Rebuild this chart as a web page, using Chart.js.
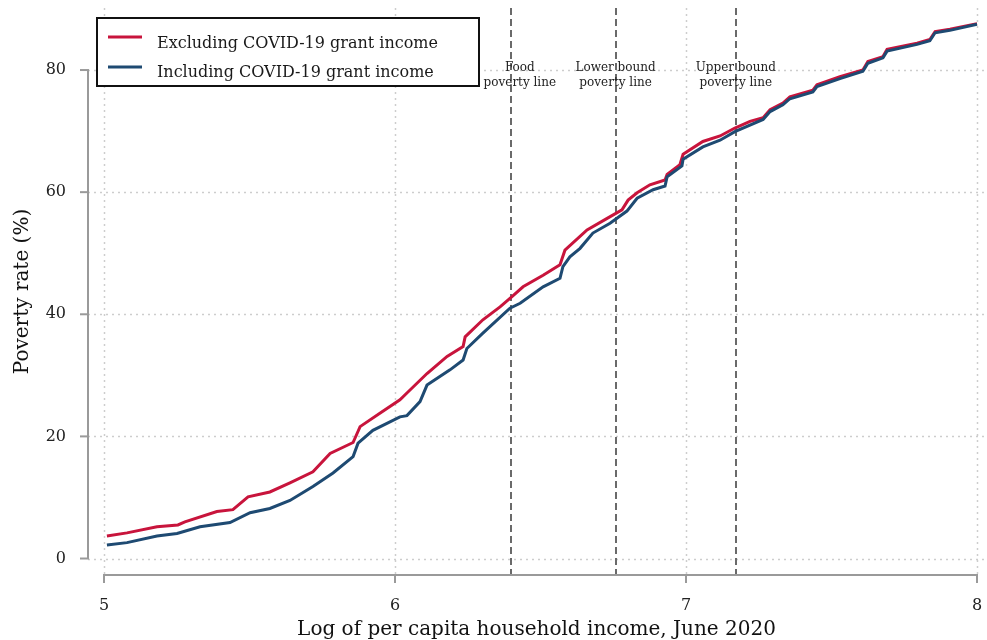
<!DOCTYPE html>
<html>
<head>
<meta charset="utf-8">
<script src="https://cdn.jsdelivr.net/npm/chart.js@4/dist/chart.umd.min.js"></script>
<style>
  html, body { margin: 0; padding: 0; background: #ffffff; }
  #wrap { width: 987px; height: 640px; }
</style>
</head>
<body>
<div id="wrap"><canvas id="chart" width="987" height="640"></canvas></div>
<script>
// Cumulative share of people below each log per-capita income level (June 2020)
const exclLogIncome = [5.010, 5.079, 5.182, 5.254, 5.278, 5.388, 5.443, 5.495, 5.570, 5.639,
  5.718, 5.777, 5.856, 5.880, 5.948, 6.017, 6.041, 6.110, 6.179, 6.234, 6.241, 6.302, 6.361,
  6.402, 6.440, 6.509, 6.567, 6.584, 6.660, 6.729, 6.780, 6.801, 6.832, 6.876, 6.928, 6.935,
  6.979, 6.990, 7.058, 7.117, 7.168, 7.220, 7.265, 7.289, 7.333, 7.357, 7.436, 7.450, 7.529,
  7.608, 7.625, 7.677, 7.691, 7.794, 7.838, 7.856, 7.907, 8.000];
const exclPovertyRate = [3.7, 4.2, 5.2, 5.5, 6.0, 7.7, 8.0, 10.1, 10.9, 12.4,
  14.2, 17.2, 19.0, 21.6, 23.8, 26.0, 27.1, 30.3, 33.1, 34.7, 36.3, 39.1, 41.2,
  42.9, 44.5, 46.4, 48.1, 50.5, 53.8, 55.7, 57.1, 58.7, 59.9, 61.2, 62.0, 62.9,
  64.5, 66.2, 68.3, 69.2, 70.5, 71.6, 72.2, 73.5, 74.6, 75.6, 76.7, 77.6, 78.9,
  80.0, 81.4, 82.2, 83.4, 84.4, 85.0, 86.3, 86.7, 87.6];

const inclLogIncome = [5.010, 5.079, 5.182, 5.251, 5.330, 5.433, 5.502, 5.570, 5.639, 5.718,
  5.787, 5.856, 5.873, 5.924, 6.017, 6.041, 6.086, 6.110, 6.189, 6.234, 6.247, 6.302, 6.395,
  6.430, 6.509, 6.567, 6.577, 6.601, 6.636, 6.680, 6.739, 6.797, 6.832, 6.887, 6.928, 6.935,
  6.986, 6.990, 7.058, 7.117, 7.168, 7.265, 7.289, 7.333, 7.357, 7.436, 7.450, 7.529, 7.608,
  7.625, 7.677, 7.691, 7.794, 7.838, 7.856, 7.907, 8.000];
const inclPovertyRate = [2.2, 2.6, 3.7, 4.1, 5.2, 5.9, 7.5, 8.2, 9.5, 11.8,
  14.0, 16.7, 18.9, 21.0, 23.2, 23.4, 25.7, 28.4, 30.9, 32.5, 34.4, 36.9, 41.0,
  41.8, 44.5, 45.9, 47.8, 49.4, 50.8, 53.3, 54.9, 56.9, 59.0, 60.4, 61.0, 62.5,
  64.3, 65.4, 67.4, 68.5, 69.9, 71.9, 73.2, 74.3, 75.3, 76.4, 77.3, 78.6, 79.8,
  81.1, 82.0, 83.1, 84.2, 84.8, 86.1, 86.5, 87.5];

const seriesNames = ["Excluding COVID-19 grant income", "Including COVID-19 grant income"];
const seriesColors = ["#c8143c", "#1e4a72"];

const povertyLines = [6.398, 6.758, 7.171];
const povertyLineLabels = [["Food", "poverty line"], ["Lower bound", "poverty line"], ["Upper bound", "poverty line"]];

const xTickValues = [5, 6, 7, 8];
const yTickValues = [0, 20, 40, 60, 80];

const SERIF = "'DejaVu Serif', 'Liberation Serif', serif";
Chart.defaults.font.family = SERIF;
Chart.defaults.color = "#222";

const toPoints = (xs, ys) => xs.map((x, i) => ({ x: x, y: ys[i] }));

// Fixed axis band sizes with no extra label overhang padding
const pinScale = size => s => {
  if (s.isHorizontal()) s.height = size; else s.width = size;
  s.paddingLeft = s.paddingRight = s.paddingTop = s.paddingBottom = 0;
};

// Dotted grid, dashed reference lines and their captions, under the curves
const backdrop = {
  id: "backdrop",
  beforeDatasetsDraw(chart) {
    const { ctx, chartArea: a, scales: { x, y } } = chart;
    ctx.save();
    ctx.strokeStyle = "#cdcdcd";
    ctx.lineWidth = 1.5;
    ctx.setLineDash([2, 4]);
    yTickValues.forEach(v => {
      const py = Math.round(y.getPixelForValue(v)) + 0.5;
      ctx.beginPath(); ctx.moveTo(a.left, py); ctx.lineTo(a.right, py); ctx.stroke();
    });
    xTickValues.forEach(v => {
      const px = Math.round(x.getPixelForValue(v)) + 0.5;
      ctx.beginPath(); ctx.moveTo(px, a.top); ctx.lineTo(px, a.bottom); ctx.stroke();
    });

    ctx.strokeStyle = "#6a6a6a";
    ctx.lineWidth = 2;
    ctx.setLineDash([7, 4]);
    povertyLines.forEach(v => {
      const px = Math.round(x.getPixelForValue(v));
      ctx.beginPath(); ctx.moveTo(px, a.top); ctx.lineTo(px, a.bottom); ctx.stroke();
    });
    ctx.setLineDash([]);

    ctx.fillStyle = "#222";
    ctx.font = "12px " + SERIF;
    ctx.textAlign = "center";
    ctx.textBaseline = "alphabetic";
    const shift = [9, 0, 0];
    povertyLines.forEach((v, i) => {
      const px = x.getPixelForValue(v) + shift[i];
      ctx.fillText(povertyLineLabels[i][0], px, 71);
      ctx.fillText(povertyLineLabels[i][1], px, 86);
    });
    ctx.restore();
  }
};

// Axis lines spanning the tick range, outward tick marks, and the boxed legend
const axesAndKey = {
  id: "axesAndKey",
  afterDraw(chart) {
    const { ctx, chartArea: a, scales: { x, y } } = chart;
    ctx.save();
    ctx.strokeStyle = "#9a9a9a";
    ctx.lineWidth = 2;
    ctx.setLineDash([]);
    const ax = a.left, ay = a.bottom;
    const y0 = y.getPixelForValue(yTickValues[0]);
    const y1 = y.getPixelForValue(yTickValues[yTickValues.length - 1]);
    ctx.beginPath(); ctx.moveTo(ax, y0); ctx.lineTo(ax, y1); ctx.stroke();
    yTickValues.forEach(v => {
      const py = y.getPixelForValue(v);
      ctx.beginPath(); ctx.moveTo(ax - 8, py); ctx.lineTo(ax + 1, py); ctx.stroke();
    });
    const x0 = x.getPixelForValue(xTickValues[0]);
    const x1 = x.getPixelForValue(xTickValues[xTickValues.length - 1]);
    ctx.beginPath(); ctx.moveTo(x0, ay); ctx.lineTo(x1, ay); ctx.stroke();
    xTickValues.forEach(v => {
      const px = x.getPixelForValue(v);
      ctx.beginPath(); ctx.moveTo(px, ay - 1); ctx.lineTo(px, ay + 8); ctx.stroke();
    });

    // legend
    const box = { l: 97, t: 18, r: 479, b: 86 };
    ctx.fillStyle = "#ffffff";
    ctx.fillRect(box.l, box.t, box.r - box.l, box.b - box.t);
    ctx.strokeStyle = "#111";
    ctx.lineWidth = 2;
    ctx.strokeRect(box.l, box.t, box.r - box.l, box.b - box.t);
    ctx.font = "16px " + SERIF;
    ctx.textAlign = "left";
    ctx.textBaseline = "alphabetic";
    const rows = [{ line: 37, text: 48 }, { line: 67, text: 77 }];
    chart.data.datasets.slice().sort((p, q) => p.legendIndex - q.legendIndex).forEach((ds, i) => {
      ctx.strokeStyle = ds.borderColor;
      ctx.lineWidth = 3;
      ctx.beginPath(); ctx.moveTo(108, rows[i].line); ctx.lineTo(142, rows[i].line); ctx.stroke();
      ctx.fillStyle = "#1a1a1a";
      ctx.fillText(ds.label, 157, rows[i].text);
    });
    ctx.restore();
  }
};

new Chart(document.getElementById("chart"), {
  type: "line",
  data: {
    datasets: [
      {
        label: seriesNames[0], legendIndex: 0, order: 1,
        data: toPoints(exclLogIncome, exclPovertyRate),
        borderColor: seriesColors[0], borderWidth: 3, pointRadius: 0, tension: 0, fill: false
      },
      {
        label: seriesNames[1], legendIndex: 1, order: 0,
        data: toPoints(inclLogIncome, inclPovertyRate),
        borderColor: seriesColors[1], borderWidth: 3, pointRadius: 0, tension: 0, fill: false
      }
    ]
  },
  options: {
    responsive: false,
    animation: false,
    devicePixelRatio: 1,
    layout: { autoPadding: false, padding: { top: 8, right: 2, left: 0, bottom: 0 } },
    plugins: { legend: { display: false }, tooltip: { enabled: false } },
    scales: {
      x: {
        type: "linear",
        min: 4.945, max: 8.0275,
        afterBuildTicks: s => { s.ticks = xTickValues.map(v => ({ value: v })); },
        afterFit: pinScale(65),
        grid: { display: false },
        border: { display: false },
        ticks: { font: { size: 16 }, color: "#222", padding: 13.4, maxRotation: 0, autoSkip: false },
        title: {
          display: true, text: "Log of per capita household income, June 2020",
          font: { size: 20 }, color: "#111", padding: { top: 0, bottom: -2 }
        }
      },
      y: {
        type: "linear",
        min: -2.70, max: 90.16,
        afterBuildTicks: s => { s.ticks = yTickValues.map(v => ({ value: v })); },
        afterFit: pinScale(88),
        grid: { display: false },
        border: { display: false },
        ticks: { font: { size: 16 }, color: "#222", padding: 14, autoSkip: false },
        title: {
          display: true, text: "Poverty rate (%)",
          font: { size: 20 }, color: "#111", padding: { top: 11, bottom: 0 }
        }
      }
    }
  },
  plugins: [backdrop, axesAndKey]
});
</script>
</body>
</html>
